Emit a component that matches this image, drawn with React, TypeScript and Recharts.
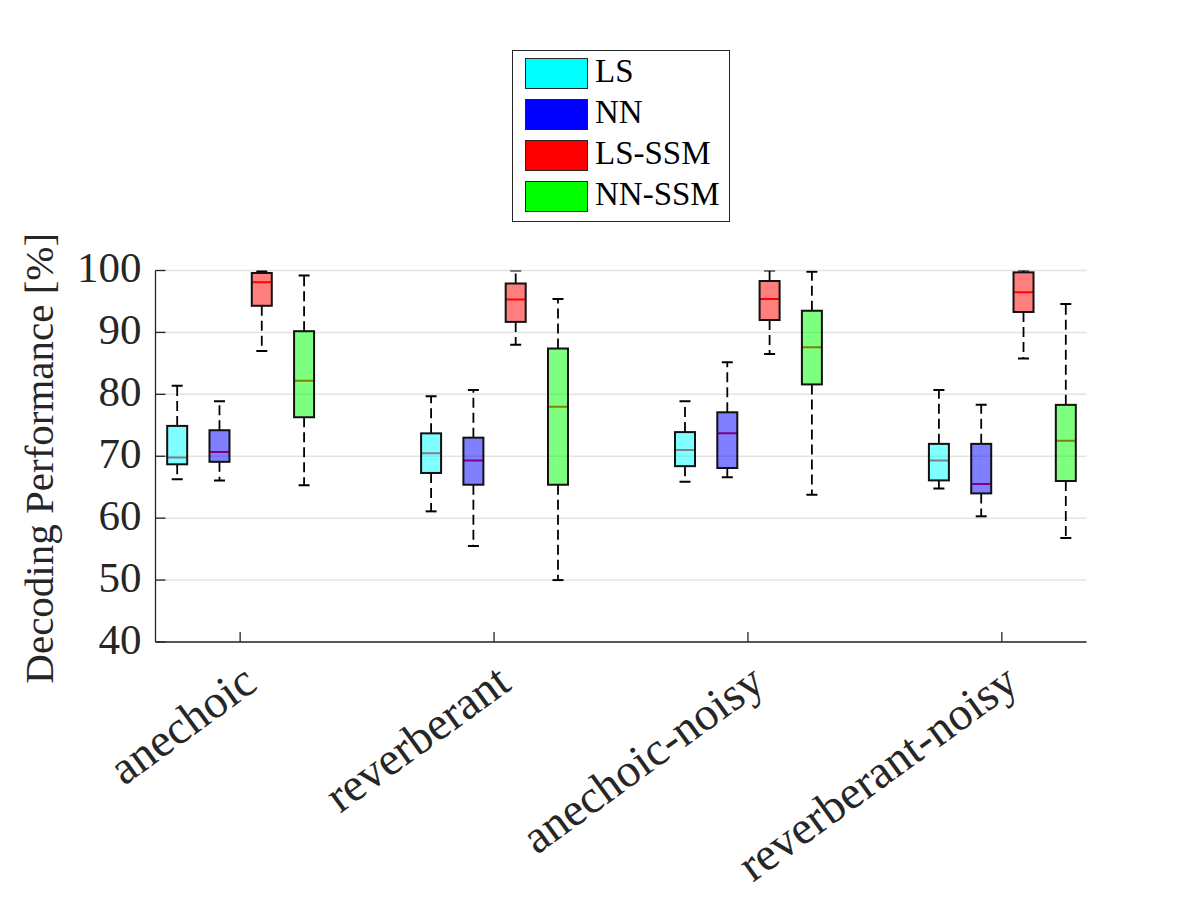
import { Bar, CartesianGrid, ComposedChart, Legend, XAxis, YAxis } from 'recharts';

const categories = ['anechoic', 'reverberant', 'anechoic-noisy', 'reverberant-noisy'];
const yTicks = [40, 50, 60, 70, 80, 90, 100];

// each entry: [min, q1, median, q3, max]
const lsStats = [
  [66.3, 68.7, 69.8, 74.9, 81.4],
  [61.1, 67.3, 70.5, 73.7, 79.7],
  [65.9, 68.4, 71.0, 73.9, 78.9],
  [64.8, 66.1, 69.3, 72.0, 80.7],
];
const nnStats = [
  [66.1, 69.1, 70.7, 74.2, 78.9],
  [55.5, 65.4, 69.3, 73.0, 80.7],
  [66.6, 68.1, 73.7, 77.1, 85.2],
  [60.3, 64.0, 65.5, 72.0, 78.3],
];
const lsSsmStats = [
  [87.0, 94.3, 98.1, 99.6, 99.9],
  [88.0, 91.7, 95.3, 97.9, 100],
  [86.5, 92.0, 95.4, 98.3, 100],
  [85.8, 93.3, 96.5, 99.7, 100],
];
const nnSsmStats = [
  [65.3, 76.3, 82.2, 90.2, 99.2],
  [50.0, 65.4, 78.0, 87.4, 95.4],
  [63.8, 81.6, 87.6, 93.5, 99.8],
  [56.8, 66.0, 72.5, 78.3, 94.6],
];

const series = [
  { key: 'ls', name: 'LS', color: '#00ffff' },
  { key: 'nn', name: 'NN', color: '#0000ff' },
  { key: 'lsSsm', name: 'LS-SSM', color: '#ff0000' },
  { key: 'nnSsm', name: 'NN-SSM', color: '#00ff00' },
];
const seriesOrder = series.map((s) => s.name);

const data = categories.map((name, i) => ({
  x: i + 1,
  name,
  ls: lsStats[i],
  nn: nnStats[i],
  lsSsm: lsSsmStats[i],
  nnSsm: nnSsmStats[i],
}));

const FONT = "'Liberation Serif', 'Times New Roman', serif";
const AXIS = '#262626';

const BoxShape = (props: any) => {
  const { x, y, width, height, stats, face } = props;
  if (!stats) return null;
  const [min, q1, med, q3, max] = stats;
  const top = Math.min(y, y + height);
  const h = Math.abs(height);
  const py = (v: number) => top + ((max - v) / (max - min)) * h;
  const cx = x + width / 2;
  const bw = 20;
  const cap = 11;
  return (
    <g>
      <line x1={cx} x2={cx} y1={py(q3)} y2={py(max)} stroke="#000" strokeWidth={1.8} strokeDasharray="10 5" />
      <line x1={cx} x2={cx} y1={py(q1)} y2={py(min)} stroke="#000" strokeWidth={1.8} strokeDasharray="10 5" />
      <line x1={cx - cap / 2} x2={cx + cap / 2} y1={py(max)} y2={py(max)} stroke="#000" strokeWidth={2} />
      <line x1={cx - cap / 2} x2={cx + cap / 2} y1={py(min)} y2={py(min)} stroke="#000" strokeWidth={2} />
      <line x1={cx - bw / 2} x2={cx + bw / 2} y1={py(med)} y2={py(med)} stroke="#ff0000" strokeWidth={2} />
      <rect
        x={cx - bw / 2}
        y={py(q3)}
        width={bw}
        height={py(q1) - py(q3)}
        fill={face}
        fillOpacity={0.5}
        stroke="#111"
        strokeWidth={2}
      />
    </g>
  );
};

const XTick = ({ x, y, payload }: any) => {
  const label = categories[payload.value - 1];
  const ax = x + 19;
  const ay = y + 46;
  return (
    <g>
      <line x1={x} x2={x} y1={y} y2={y - 10} stroke={AXIS} strokeWidth={1.3} />
      <text x={ax} y={ay} textAnchor="end" transform={`rotate(-36 ${ax} ${ay})`} fontFamily={FONT} fontSize={47} fill="#262626">
        {label}
      </text>
    </g>
  );
};

const YTick = ({ x, y, payload }: any) => (
  <g>
    <line x1={x + 14} x2={x + 24} y1={y} y2={y} stroke={AXIS} strokeWidth={1.3} />
    <text x={x} y={y + 11.5} textAnchor="end" fontFamily={FONT} fontSize={43} fill="#262626">
      {payload.value}
    </text>
  </g>
);

const YLabel = ({ viewBox }: any) => {
  const lx = 53;
  const ly = viewBox.y + viewBox.height / 2 + 2;
  return (
    <text x={lx} y={ly} textAnchor="middle" transform={`rotate(-90 ${lx} ${ly})`} fontFamily={FONT} fontSize={41} fill="#262626">
      Decoding Performance [%]
    </text>
  );
};

const LegendBox = ({ payload }: any) => {
  const items = [...(payload || [])].sort((a: any, b: any) => seriesOrder.indexOf(a.value) - seriesOrder.indexOf(b.value));
  return (
    <div
      style={{
        width: 218,
        height: 172,
        boxSizing: 'border-box',
        border: `1.3px solid ${AXIS}`,
        background: '#fff',
        padding: '7px 0 0 12px',
        fontFamily: FONT,
        fontSize: 33,
        color: '#000',
      }}
    >
      {items.map((item: any) => (
        <div key={item.value} style={{ display: 'flex', alignItems: 'flex-start', height: 41 }}>
          <div style={{ width: 63, height: 31, boxSizing: 'border-box', border: `1.5px solid ${AXIS}`, background: item.color }} />
          <span style={{ marginLeft: 7, lineHeight: '31px', position: 'relative', top: -2, whiteSpace: 'nowrap' }}>{item.value}</span>
        </div>
      ))}
    </div>
  );
};

export default function App() {
  return (
    <div style={{ position: 'absolute', left: 0, top: 0, width: 1200, height: 900, background: '#fff' }}>
      <ComposedChart
        width={1200}
        height={900}
        data={data}
        margin={{ top: 270.5, right: 113.5, bottom: 198, left: 75.5 }}
        barSize={22}
        barGap={20.3}
      >
        <CartesianGrid vertical={false} stroke="#e3e3e3" strokeWidth={1.5} />
        <XAxis
          type="number"
          dataKey="x"
          domain={[2 / 3, 13 / 3]}
          ticks={[1, 2, 3, 4]}
          height={60}
          tickSize={0}
          tickMargin={0}
          tickLine={false}
          axisLine={{ stroke: AXIS, strokeWidth: 1.3 }}
          tick={<XTick />}
          allowDataOverflow
        />
        <YAxis
          type="number"
          domain={[40, 100]}
          ticks={yTicks}
          width={80}
          tickSize={0}
          tickMargin={14}
          tickLine={false}
          axisLine={{ stroke: AXIS, strokeWidth: 1.3 }}
          tick={<YTick />}
          label={<YLabel />}
          allowDataOverflow
        />
        <Legend
          layout="vertical"
          align="center"
          verticalAlign="middle"
          content={<LegendBox />}
          wrapperStyle={{ left: 512, top: 50, width: 218, height: 172 }}
        />
        {series.map((s) => (
          <Bar
            key={s.key}
            name={s.name}
            fill={s.color}
            dataKey={(d: any) => [d[s.key][0], d[s.key][4]]}
            isAnimationActive={false}
            shape={(p: any) => <BoxShape {...p} stats={p.payload && p.payload[s.key]} face={s.color} />}
          />
        ))}
      </ComposedChart>
    </div>
  );
}
